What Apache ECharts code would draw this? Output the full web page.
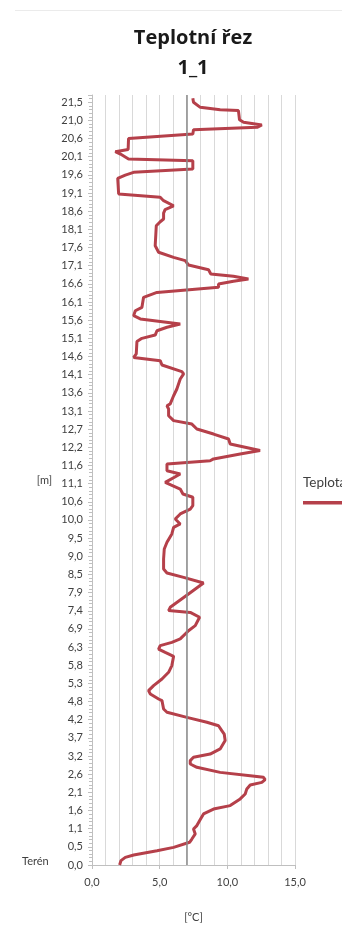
<!DOCTYPE html>
<html>
<head>
<meta charset="utf-8">
<script src="https://cdn.jsdelivr.net/npm/echarts@6/dist/echarts.min.js"></script>
<style>
  html, body { margin: 0; padding: 0; background: #ffffff; }
  #chart { width: 342px; height: 928px; }
</style>
</head>
<body>
<div id="chart"></div>
<script>
// Depth tick labels (Excel category labels, bottom to top)
const depthLabels = ['0,0','0,5','1,1','1,6','2,1','2,6','3,2','3,7','4,2','4,8','5,3','5,8','6,3','6,9','7,4','7,9','8,5','9,0','9,5','10,0','10,6','11,1','11,6','12,2','12,7','13,1','13,6','14,1','14,6','15,1','15,6','16,1','16,6','17,1','17,6','18,1','18,6','19,1','19,6','20,1','20,6','21,0','21,5'];

// Position along the depth axis, in label steps (0 = Terén / 0,0 ; 42 = 21,5)
const depthPosition = [
  0.00, 0.24, 0.42, 0.55, 0.79, 0.97, 1.25, 1.43, 1.71, 1.98,
  2.17, 2.50, 2.81, 3.08, 3.27, 3.64, 3.91, 4.19, 4.41, 4.55,
  4.70, 4.83, 4.92, 5.10, 5.38, 5.56, 5.75, 5.93, 6.11, 6.39,
  6.85, 7.21, 7.40, 7.67, 7.86, 8.13, 8.41, 8.59, 9.05, 9.14,
  9.42, 9.60, 9.88, 10.24, 10.61, 10.98, 11.49, 11.71, 11.89, 12.08,
  12.26, 12.45, 12.90, 13.18, 13.64, 13.91, 14.01, 14.19, 14.92, 15.53,
  15.84, 16.08, 16.30, 16.85, 17.40, 17.77, 18.23, 18.59, 18.78, 19.05,
  19.33, 19.60, 19.79, 20.25, 20.43, 20.70, 21.07, 21.53, 21.71, 22.08,
  22.26, 22.36, 22.63, 22.82, 23.18, 23.46, 23.73, 24.01, 24.28, 24.47,
  24.74, 25.11, 25.29, 25.39, 25.84, 26.21, 26.76, 27.04, 27.17, 27.53,
  27.77, 27.95, 28.14, 28.82, 29.00, 29.18, 29.42, 29.61, 29.79, 30.07,
  30.25, 30.52, 30.71, 31.26, 31.53, 31.81, 31.99, 32.14, 32.27, 32.42,
  32.54, 32.78, 33.04, 33.28, 33.46, 33.74, 34.10, 35.20, 35.42, 35.57,
  35.90, 36.09, 36.30, 36.58, 36.77, 36.95, 37.04, 37.81, 37.99, 38.14,
  38.32, 38.78, 38.88, 38.97, 39.15, 39.28, 39.40, 40.00, 40.25, 40.49,
  40.62, 40.75, 40.90, 41.04, 41.54, 41.59, 41.72, 42.00, 42.22
];

// Temperature [°C] at each position above
const temperature = [
  2.04, 2.14, 2.46, 3.08, 4.80, 6.03, 7.21, 7.38, 7.63, 7.50,
  7.75, 8.00, 8.24, 8.98, 10.21, 10.95, 11.32, 11.44, 11.69, 12.55,
  12.79, 12.67, 11.69, 9.47, 7.75, 7.26, 7.26, 7.50, 8.73, 9.47,
  9.84, 9.77, 9.59, 9.35, 8.49, 7.01, 5.54, 5.29, 5.17, 4.92,
  4.31, 4.18, 4.55, 5.17, 5.66, 5.90, 6.03, 5.41, 4.92, 5.04,
  5.90, 6.52, 7.13, 7.63, 7.95, 7.26, 5.66, 5.78, 7.13, 8.24,
  6.77, 5.54, 5.29, 5.29, 5.34, 5.54, 5.90, 6.03, 6.52, 6.15,
  6.52, 7.26, 7.45, 7.45, 6.72, 6.52, 5.41, 6.52, 5.54, 5.54,
  8.73, 8.98, 10.95, 12.42, 10.21, 10.09, 8.98, 7.75, 7.38, 6.03,
  5.66, 5.66, 5.54, 5.78, 6.03, 6.27, 6.52, 6.77, 6.64, 5.17,
  5.04, 3.08, 3.27, 3.32, 3.69, 4.67, 4.80, 5.54, 6.52, 3.57,
  3.08, 3.20, 3.69, 3.81, 4.80, 9.35, 9.35, 10.45, 11.56, 10.45,
  8.78, 8.61, 7.13, 6.89, 6.03, 4.92, 4.67, 4.75, 5.04, 5.29,
  5.29, 5.40, 6.03, 5.29, 5.04, 1.97, 1.85, 1.90, 2.46, 3.07,
  7.45, 7.45, 2.70, 2.58, 2.10, 1.72, 2.67, 2.70, 7.45, 7.50,
  12.20, 12.55, 11.20, 10.90, 10.82, 9.47, 8.00, 7.50, 7.45
];

const seriesName = 'Teplota';
const referenceTemp = 7.0;

const chart = echarts.init(document.getElementById('chart'), null, { renderer: 'canvas' });
const lineColor = '#b5404a';
const fontFam = 'Lato, "Liberation Sans", sans-serif';

chart.setOption({
  backgroundColor: '#ffffff',
  animation: false,
  title: {
    text: 'Teplotní řez\n1_1',
    left: 188,
    textAlign: 'center',
    top: 18,
    textStyle: { fontFamily: '"Open Sans", Lato, sans-serif', fontSize: 20, fontWeight: 'bold', color: '#1a1a1a', lineHeight: 30 }
  },
  grid: { left: 92, right: 47, top: 95, bottom: 62, containLabel: false },
  xAxis: {
    type: 'value', min: 0, max: 15, interval: 5,
    name: '[°C]', nameLocation: 'middle', nameGap: 47,
    nameTextStyle: { fontFamily: fontFam, fontSize: 11, color: '#404040' },
    axisLine: { show: true, lineStyle: { color: '#bfbfbf', width: 1 } },
    axisTick: { show: true, length: 4, lineStyle: { color: '#bfbfbf' } },
    axisLabel: { fontFamily: fontFam, fontSize: 11, color: '#404040', margin: 12,
      formatter: v => v.toFixed(1).replace('.', ',') },
    splitLine: { show: true, lineStyle: { color: '#d9d9d9', width: 1 } },
    minorTick: { show: false, splitNumber: 5 },
    minorSplitLine: { show: true, lineStyle: { color: '#d9d9d9', width: 1 } }
  },
  yAxis: {
    type: 'value', min: 0, max: 42.4, interval: 1,
    name: '[m]', nameLocation: 'middle', nameRotate: 0, nameGap: 40,
    nameTextStyle: { fontFamily: fontFam, fontSize: 11, color: '#404040' },
    axisLine: { show: true, lineStyle: { color: '#bfbfbf', width: 1 } },
    axisTick: { show: true, length: 4, lineStyle: { color: '#bfbfbf' } },
    minorTick: { show: true, splitNumber: 5, length: 3, lineStyle: { color: '#bfbfbf' } },
    axisLabel: { fontFamily: fontFam, fontSize: 11, color: '#404040', margin: 9,
      formatter: v => {
        const r = Math.round(v);
        return Math.abs(v - r) < 1e-6 && depthLabels[r] !== undefined ? depthLabels[r] : '';
      } },
    splitLine: { show: false }
  },
  series: [{
    name: seriesName,
    type: 'line',
    data: temperature.map((t, i) => [t, depthPosition[i]]),
    showSymbol: false,
    smooth: false,
    lineStyle: { color: lineColor, width: 3 },
    itemStyle: { color: lineColor },
    markLine: {
      silent: true, symbol: 'none', label: { show: false },
      lineStyle: { color: '#8a8a8a', type: 'solid', width: 1.5 },
      data: [{ xAxis: referenceTemp }]
    },
    z: 3
  }],
  graphic: [
    { type: 'line', shape: { x1: 15, y1: 10.5, x2: 342, y2: 10.5 }, style: { stroke: '#ebebeb', lineWidth: 1 } },
    { type: 'text', left: 22, top: 856, style: { text: 'Terén', fontFamily: fontFam, fontSize: 11, fill: '#404040' } },
    { type: 'text', left: 303, top: 476, style: { text: seriesName, fontFamily: fontFam, fontSize: 13.5, fill: '#404040' } },
    { type: 'rect', left: 303, top: 501, shape: { width: 60, height: 3.5 }, style: { fill: lineColor } }
  ]
});
</script>
</body>
</html>
